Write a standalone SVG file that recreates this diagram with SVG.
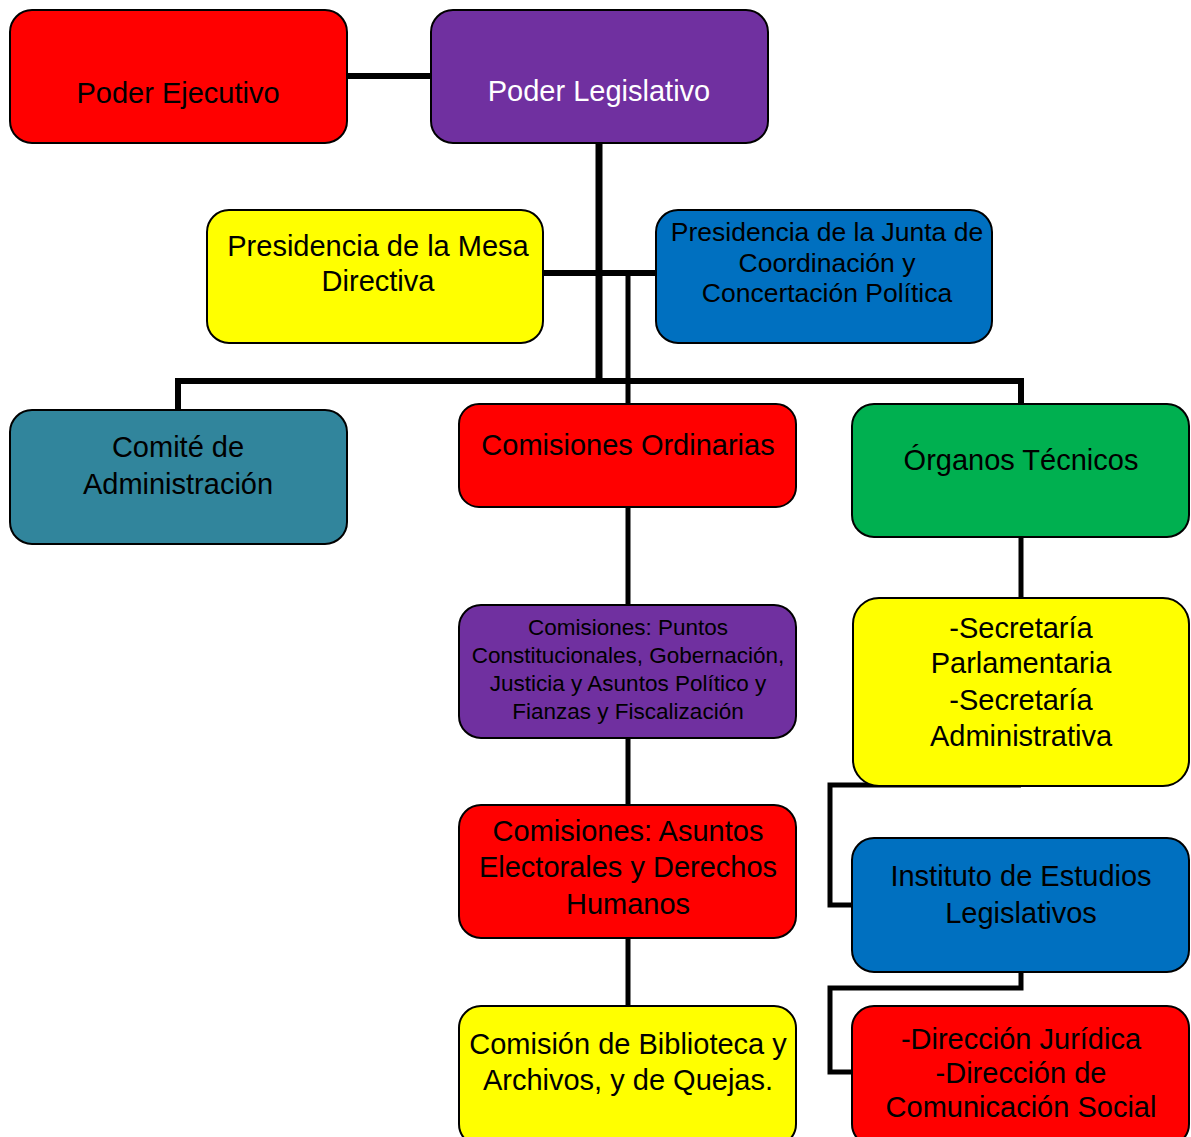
<svg xmlns="http://www.w3.org/2000/svg" width="1191" height="1137" viewBox="0 0 1191 1137">
<style>
.box{stroke:#000;stroke-width:2}
.c{fill:none;stroke:#000;stroke-width:6;stroke-linejoin:miter}
text{font-family:"Liberation Sans",Arial,sans-serif;font-size:29px;text-anchor:middle;fill:#000}
.w{fill:#fff}
.s{font-size:26.5px}
.xs{font-size:22.5px}
</style>
<rect width="1191" height="1137" fill="#fff"/>
<g id="connectors">
<line class="c" x1="347" y1="76" x2="431" y2="76" stroke-width="5"/>
<line class="c" x1="599" y1="143" x2="599" y2="381" style="stroke-width:7"/>
<line class="c" x1="543" y1="273" x2="656" y2="273"/>
<line class="c" x1="628" y1="273" x2="628" y2="404" style="stroke-width:5"/>
<polyline class="c" points="178,410 178,381 1021,381 1021,404"/>
<line class="c" x1="628" y1="507" x2="628" y2="605" style="stroke-width:5"/>
<line class="c" x1="628" y1="738" x2="628" y2="805" style="stroke-width:5"/>
<line class="c" x1="628" y1="938" x2="628" y2="1006" style="stroke-width:5"/>
<line class="c" x1="1021" y1="537" x2="1021" y2="598" style="stroke-width:5"/>
<polyline class="c" points="1021,785 830,785 830,905 852,905" style="stroke-width:5"/>
<polyline class="c" points="1021,972 1021,988 830,988 830,1072 852,1072" style="stroke-width:5"/>
</g>
<g id="poder-ejecutivo">
<rect class="box" x="10" y="10" width="337" height="133" rx="22" fill="#ff0000"/>
<text x="178" y="103">Poder Ejecutivo</text>
</g>
<g id="poder-legislativo">
<rect class="box" x="431" y="10" width="337" height="133" rx="22" fill="#7030a0"/>
<text class="w" x="599" y="101">Poder Legislativo</text>
</g>
<g id="presidencia-mesa">
<rect class="box" x="207" y="210" width="336" height="133" rx="22" fill="#ffff00"/>
<text x="378" y="256">Presidencia de la Mesa</text>
<text x="378" y="291">Directiva</text>
</g>
<g id="presidencia-junta">
<rect class="box" x="656" y="210" width="336" height="133" rx="22" fill="#0070c0"/>
<text class="s" x="827" y="241">Presidencia de la Junta de</text>
<text class="s" x="827" y="272">Coordinación y</text>
<text class="s" x="827" y="302">Concertación Política</text>
</g>
<g id="comite-administracion">
<rect class="box" x="10" y="410" width="337" height="134" rx="22" fill="#31859c"/>
<text x="178" y="457">Comité de</text>
<text x="178" y="494">Administración</text>
</g>
<g id="comisiones-ordinarias">
<rect class="box" x="459" y="404" width="337" height="103" rx="20" fill="#ff0000"/>
<text x="628" y="455">Comisiones Ordinarias</text>
</g>
<g id="organos-tecnicos">
<rect class="box" x="852" y="404" width="337" height="133" rx="22" fill="#00b050"/>
<text x="1021" y="470">Órganos Técnicos</text>
</g>
<g id="comisiones-puntos">
<rect class="box" x="459" y="605" width="337" height="133" rx="22" fill="#7030a0"/>
<text class="xs" x="628" y="635">Comisiones: Puntos</text>
<text class="xs" x="628" y="663">Constitucionales, Gobernación,</text>
<text class="xs" x="628" y="691">Justicia y Asuntos Político y</text>
<text class="xs" x="628" y="719">Fianzas y Fiscalización</text>
</g>
<g id="comisiones-asuntos">
<rect class="box" x="459" y="805" width="337" height="133" rx="22" fill="#ff0000"/>
<text x="628" y="841">Comisiones: Asuntos</text>
<text x="628" y="877">Electorales y Derechos</text>
<text x="628" y="914">Humanos</text>
</g>
<g id="comision-biblioteca">
<rect class="box" x="459" y="1006" width="337" height="140" rx="22" fill="#ffff00"/>
<text x="628" y="1054">Comisión de Biblioteca y</text>
<text x="628" y="1090">Archivos, y de Quejas.</text>
</g>
<g id="secretarias">
<rect x="855" y="600" width="334" height="185" rx="26" fill="none" stroke="#5b7f9a" stroke-width="2"/>
<rect class="box" x="853" y="598" width="336" height="188" rx="26" fill="#ffff00"/>
<text x="1021" y="638">-Secretaría</text>
<text x="1021" y="673">Parlamentaria</text>
<text x="1021" y="710">-Secretaría</text>
<text x="1021" y="746">Administrativa</text>
</g>
<g id="instituto">
<rect class="box" x="852" y="838" width="337" height="134" rx="22" fill="#0070c0"/>
<text x="1021" y="886">Instituto de Estudios</text>
<text x="1021" y="923">Legislativos</text>
</g>
<g id="direcciones">
<rect class="box" x="852" y="1006" width="337" height="140" rx="22" fill="#ff0000"/>
<text x="1021" y="1049">-Dirección Jurídica</text>
<text x="1021" y="1083">-Dirección de</text>
<text x="1021" y="1117">Comunicación Social</text>
</g>
</svg>
